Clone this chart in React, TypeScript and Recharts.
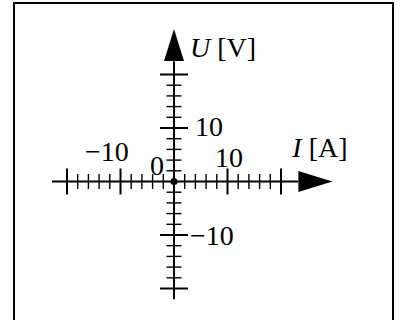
import React from 'react';
import { ScatterChart, Scatter, XAxis, YAxis, ReferenceLine, ReferenceDot } from 'recharts';

// Current I [A] along the horizontal axis, voltage U [V] along the vertical axis
const origin = [{ i: 0, u: 0 }];

const iMajorTicks = [-20, -10, 10, 20];
const iMinorTicks = [-18, -16, -14, -12, -8, -6, -4, -2, 2, 4, 6, 8, 12, 14, 16, 18];
const uMajorTicks = [-20, -10, 10, 20];
const uMinorTicks = [-18, -16, -14, -12, -8, -6, -4, -2, 2, 4, 6, 8, 12, 14, 16, 18];

const iTickLabels = [
  { value: -10, text: '−10', dx: -35.5, dy: -20.5 },
  { value: 10, text: '10', dx: -12.5, dy: -14.5 },
];
const uTickLabels = [
  { value: 10, text: '10', dx: 21, dy: 8 },
  { value: -10, text: '−10', dx: 16, dy: 10 },
];

// axis extents in data units: line start, arrow base, arrow tip
const I_START = -22.8;
const I_ARROW_BASE = 23.2;
const I_TIP = 29.6;
const U_START = -22;
const U_ARROW_BASE = 22.5;
const U_TIP = 28.5;

const FONT = '"Liberation Serif", "Times New Roman", serif';
const FONT_SIZE = 28;

const hTick = (half: number, width: number) => (props: any) => (
  <line x1={props.cx} x2={props.cx} y1={props.cy - half} y2={props.cy + half} stroke="#000" strokeWidth={width} />
);
const vTick = (half: number, width: number) => (props: any) => (
  <line x1={props.cx - half} x2={props.cx + half} y1={props.cy} y2={props.cy} stroke="#000" strokeWidth={width} />
);

const textAt = (text: React.ReactNode, dx: number, dy: number) => (props: any) => (
  <text x={props.cx + dx} y={props.cy + dy} fontFamily={FONT} fontSize={FONT_SIZE} fill="#000">
    {text}
  </text>
);

const upArrow = (props: any) => {
  const { cx, cy } = props;
  const baseY = cy + 32;
  return <polygon points={`${cx},${cy} ${cx - 10},${baseY} ${cx + 10},${baseY}`} fill="#000" />;
};
const rightArrow = (props: any) => {
  const { cx, cy } = props;
  const baseX = cx - 34;
  return <polygon points={`${cx},${cy} ${baseX},${cy - 10.5} ${baseX},${cy + 10.5}`} fill="#000" />;
};

const App = () => {
  return (
    <div style={{ position: 'fixed', left: 0, top: 0, width: 402, height: 320, overflow: 'hidden', background: '#fff' }}>
      <div
        style={{
          position: 'absolute',
          left: 13,
          top: 2,
          width: 377,
          height: 340,
          borderTop: '2.5px solid #000',
          borderLeft: '2.5px solid #000',
          borderRight: '2.5px solid #000',
        }}
      />
      <ScatterChart
        width={402}
        height={320}
        margin={{ top: 21, right: 67.5, bottom: 4.75, left: 40.25 }}
        style={{ position: 'absolute', left: 0, top: 0 }}
      >
        <XAxis type="number" dataKey="i" domain={[-25, 30]} hide allowDataOverflow />
        <YAxis type="number" dataKey="u" domain={[-25, 30]} hide allowDataOverflow />

        <ReferenceLine segment={[{ x: I_START, y: 0 }, { x: I_ARROW_BASE, y: 0 }]} stroke="#000" strokeWidth={2} />
        <ReferenceLine segment={[{ x: 0, y: U_START }, { x: 0, y: U_ARROW_BASE }]} stroke="#000" strokeWidth={2} />

        {iMinorTicks.map((v) => (
          <ReferenceDot key={`im${v}`} x={v} y={0} r={0} shape={hTick(7.5, 1.4)} />
        ))}
        {iMajorTicks.map((v) => (
          <ReferenceDot key={`iM${v}`} x={v} y={0} r={0} shape={hTick(13, 2)} />
        ))}
        {uMinorTicks.map((v) => (
          <ReferenceDot key={`um${v}`} x={0} y={v} r={0} shape={vTick(7.5, 1.4)} />
        ))}
        {uMajorTicks.map((v) => (
          <ReferenceDot key={`uM${v}`} x={0} y={v} r={0} shape={vTick(14, 2)} />
        ))}

        <ReferenceDot x={I_TIP} y={0} r={0} shape={rightArrow} />
        <ReferenceDot x={0} y={U_TIP} r={0} shape={upArrow} />

        {iTickLabels.map((l) => (
          <ReferenceDot key={`il${l.value}`} x={l.value} y={0} r={0} shape={textAt(l.text, l.dx, l.dy)} />
        ))}
        {uTickLabels.map((l) => (
          <ReferenceDot key={`ul${l.value}`} x={0} y={l.value} r={0} shape={textAt(l.text, l.dx, l.dy)} />
        ))}
        <ReferenceDot x={0} y={0} r={0} shape={textAt('0', -24, -6.5)} />

        <ReferenceDot
          x={I_TIP}
          y={0}
          r={0}
          shape={textAt(
            <>
              <tspan fontStyle="italic">I</tspan>
              <tspan> [A]</tspan>
            </>,
            -40,
            -24.5
          )}
        />
        <ReferenceDot
          x={0}
          y={U_TIP}
          r={0}
          shape={textAt(
            <>
              <tspan fontStyle="italic">U</tspan>
              <tspan> [V]</tspan>
            </>,
            16,
            28
          )}
        />

        <Scatter data={origin} fill="#000" isAnimationActive={false} shape={(p: any) => <circle cx={p.cx} cy={p.cy} r={3.5} fill="#000" />} />
      </ScatterChart>
    </div>
  );
};

export default App;
